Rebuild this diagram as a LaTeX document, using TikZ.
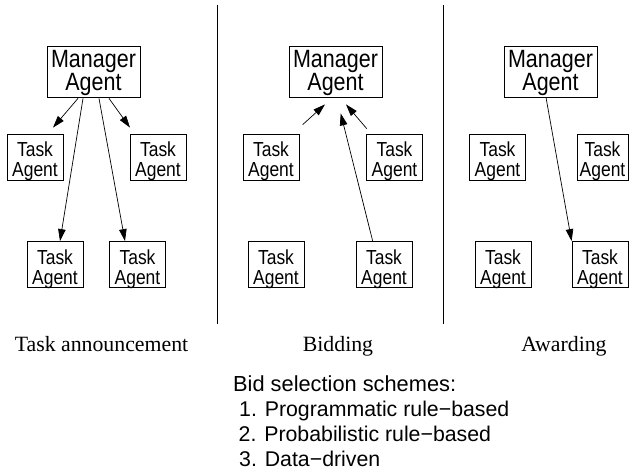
\documentclass[tikz,border=0pt]{standalone}
\usepackage{fontspec}
\setmainfont{Liberation Serif}
\newfontfamily\agentfont{Liberation Sans}
\newfontfamily\boxfont[FakeStretch=0.86]{Liberation Sans}
\usetikzlibrary{arrows.meta,calc}

\tikzset{
  agentbox/.style={draw, line width=0.8pt, inner sep=0pt,
    minimum width=56pt, minimum height=46pt},
  managerbox/.style={draw, line width=0.8pt, inner sep=0pt,
    minimum width=93pt, minimum height=51pt},
  agenttext/.style={inner sep=0pt, align=center,
    font=\boxfont\fontsize{20.3}{20}\selectfont},
  managertext/.style={inner sep=0pt, align=center,
    font=\boxfont\fontsize{25}{23.3}\selectfont},
  msg/.style={line width=0.7pt, -{Triangle[length=12pt,width=7.5pt]}},
  phase/.style={font=\fontsize{21.8}{24}\selectfont, anchor=base},
  schemeline/.style={font=\agentfont\fontsize{21.3}{25}\selectfont, anchor=base west, inner sep=0pt},
  divider/.style={line width=1pt}
}

% a task agent box (#1 = name) centred at #2
\newcommand\taskagent[2]{%
  \node[agentbox] (#1) at (#2) {};
  \node[agenttext] (#1-label) at ($(#1.center)+(0,4.3)$) {Task\\Agent};}
% a manager agent box (#1 = name) centred at #2
\newcommand\manageragent[2]{%
  \node[managerbox] (#1) at (#2) {};
  \node[managertext] (#1-label) at ($(#1.center)+(0,1.2)$) {Manager\\Agent};}

\begin{document}
\begin{tikzpicture}[x=1pt,y=-1pt]
\useasboundingbox (0,0) rectangle (629,472);

% ---- task announcement ----
\manageragent{M1}{93.5,71.5}
\taskagent{T1a}{35,157}
\taskagent{T1b}{158,157}
\taskagent{T1c}{55,264.5}
\taskagent{T1d}{137.5,264.5}

\draw[msg] ($(M1.south)+(-15.5,1)$) -- ($(T1a.north)+(18,-6)$);
\draw[msg] ($(M1.south)+(-10.5,1)$) -- ($(T1c.north)+(5,0)$);
\draw[msg] ($(M1.south)+(5.5,1)$) -- ($(T1d.north)+(-12.5,0)$);
\draw[msg] ($(M1.south)+(15.5,1)$) -- ($(T1b.north)+(-28,-6)$);

% ---- bidding ----
\manageragent{M2}{335.5,71.5}
\taskagent{T2a}{271,157}
\taskagent{T2b}{394.5,157}
\taskagent{T2c}{276,264.5}
\taskagent{T2d}{384,264.5}

\draw[msg] ($(T2a.north)+(31.7,-9)$) -- ($(M2.south)+(-10.5,7)$);
\draw[msg] ($(T2d.north)+(-11.3,0)$) -- ($(M2.south)+(5.2,16)$);
\draw[msg] ($(T2b.north)+(-27.8,-5)$) -- ($(M2.south)+(10.5,7)$);

% ---- awarding ----
\manageragent{M3}{550.5,71.5}
\taskagent{T3a}{497.5,157}
\node[agentbox, minimum width=51pt] (T3b) at (602.5,157) {};
\node[agenttext] (T3b-label) at ($(T3b.center)+(0,4.3)$) {Task\\Agent};
\taskagent{T3c}{503,264.5}
\taskagent{T3d}{600,264.5}

\draw[msg] ($(M3.south)+(-4.5,0)$) -- (T3d.north west);

% ---- dividers ----
\draw[divider] (217,5) -- (217,324);
\draw[divider] (443,5) -- (443,324);

% ---- phase captions ----
\node[phase] (cap1) at (101.5,351.5) {Task announcement};
\node[phase] (cap2) at (338,351.5) {Bidding};
\node[phase] (cap3) at (564,351.5) {Awarding};

% ---- bid selection schemes ----
\node[schemeline, font=\agentfont\fontsize{21.8}{25}\selectfont] (S0) at (233,391.5) {Bid selection schemes:};
\node[schemeline] (S1) at (239,416.5) {1. Programmatic rule−based};
\node[schemeline] (S2) at (238.5,441.5) {2. Probabilistic rule−based};
\node[schemeline] (S3) at (239,466.5) {3. Data−driven};
\end{tikzpicture}
\end{document}
